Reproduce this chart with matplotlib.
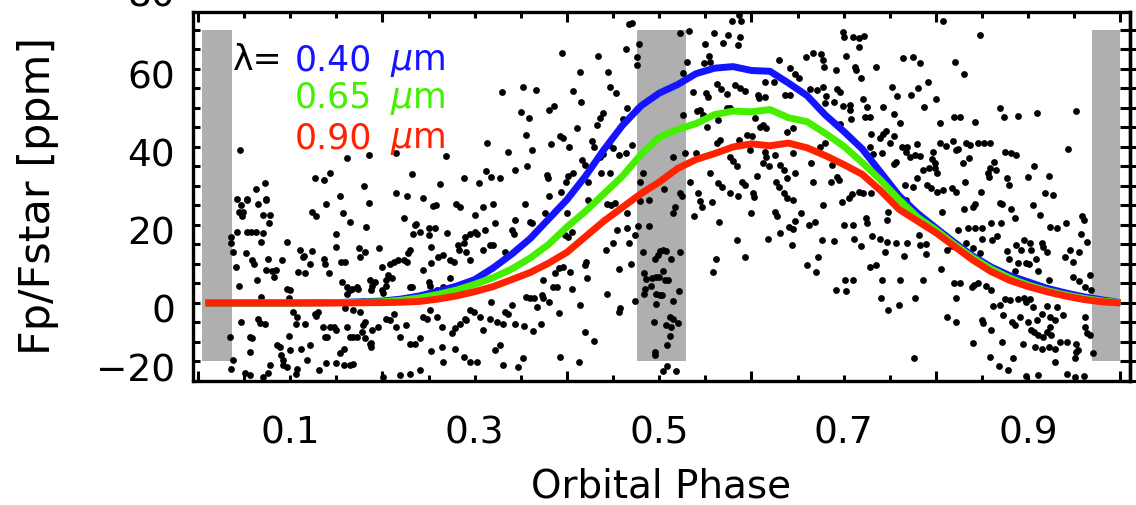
import numpy as np
import matplotlib
matplotlib.use("Agg")
import matplotlib.pyplot as plt
from matplotlib import transforms
from matplotlib.ticker import MultipleLocator

plt.rcParams["font.family"] = "DejaVu Sans"
plt.rcParams["mathtext.fontset"] = "dejavusans"

# model phase curves [ppm] for three wavelengths
phase = [0.008, 0.05, 0.10, 0.15, 0.20, 0.22, 0.24, 0.26, 0.28, 0.30, 0.32, 0.34,
         0.36, 0.38, 0.40, 0.42, 0.44, 0.46, 0.48, 0.50, 0.52, 0.54, 0.56, 0.58,
         0.60, 0.62, 0.64, 0.66, 0.68, 0.70, 0.72, 0.74, 0.76, 0.78, 0.80, 0.82,
         0.84, 0.86, 0.88, 0.90, 0.92, 0.94, 0.96, 0.98, 1.00]
flux_040 = [0.0, 0.0, 0.0, 0.1, 0.5, 1.0, 1.8, 3.0, 4.3, 6.0, 9.0, 12.5,
            16.5, 21.5, 26.5, 32.5, 39.3, 45.5, 50.5, 53.8, 56.0, 58.8, 60.2, 60.6,
            59.6, 59.4, 56.4, 53.2, 48.2, 44.0, 39.5, 33.5, 27.5, 23.0, 19.2, 15.5,
            12.0, 9.2, 7.0, 5.4, 3.8, 2.6, 1.6, 0.8, 0.1]
flux_065 = [0.0, 0.0, 0.0, 0.1, 0.3, 0.7, 1.3, 2.2, 3.3, 4.8, 6.5, 8.7,
            11.5, 15.0, 19.5, 23.5, 28.0, 32.5, 38.0, 42.5, 44.5, 46.0, 48.3, 49.2,
            49.0, 49.6, 47.5, 46.5, 43.5, 40.2, 36.0, 31.5, 26.5, 22.0, 18.7, 15.0,
            11.6, 8.7, 6.4, 4.6, 3.2, 2.1, 1.2, 0.5, 0.1]
flux_090 = [0.0, 0.0, 0.0, 0.0, 0.1, 0.2, 0.4, 1.0, 1.8, 2.9, 4.2, 6.0,
            7.8, 10.2, 13.0, 17.0, 21.0, 24.5, 28.0, 31.0, 34.5, 36.8, 38.3, 40.0,
            40.8, 40.3, 41.0, 39.8, 37.8, 35.5, 33.0, 28.8, 24.0, 21.0, 18.0, 14.5,
            11.0, 8.0, 5.8, 4.2, 2.9, 1.8, 0.9, 0.3, 0.0]

# phase ranges excluded around transit and eclipse
bands = [(0.004, 0.037), (0.476, 0.529), (0.969, 1.000)]
band_lo, band_hi = -15, 70

y_ticks = [-20, 0, 20, 40, 60]
x_labels = ["0.1", "0.3", "0.5", "0.7", "0.9"]

# simulated observations (phase, ppm)
points = [
    # upper left
    (0.046, 39.2), (0.161, 37.1), (0.185, 37.9), (0.215, 38.4), (0.269, 37.7), (0.313, 41.1),
    (0.336, 38.8), (0.330, 54.2), (0.127, 32.1), (0.137, 31.5), (0.143, 33.2), (0.073, 30.7),
    (0.063, 29.3), (0.232, 33.1), (0.180, 30.1), (0.262, 30.4), (0.288, 32.1), (0.305, 30.7),
    (0.312, 33.9), (0.318, 32.4), (0.327, 32.1), (0.042, 26.6), (0.053, 26.6), (0.074, 26.6),
    (0.154, 27.3), (0.215, 28.1), (0.227, 27.3), (0.244, 26.8),
    # upper middle
    (0.470, 71.8), (0.467, 71.5), (0.478, 66.3), (0.464, 65.1), (0.476, 63.0), (0.476, 60.9),
    (0.395, 64.0), (0.434, 63.4), (0.414, 59.3), (0.444, 59.3), (0.352, 55.5), (0.366, 54.6),
    (0.407, 54.4), (0.415, 51.6), (0.447, 55.3), (0.453, 53.9), (0.381, 49.5), (0.386, 50.5),
    (0.350, 48.9), (0.359, 47.5), (0.465, 49.9), (0.476, 49.7), (0.439, 48.6), (0.436, 47.4),
    (0.461, 47.1), (0.432, 45.6), (0.411, 44.8), (0.356, 43.1), (0.392, 42.8), (0.396, 42.2),
    (0.383, 40.8), (0.402, 40.1), (0.362, 39.2), (0.427, 41.5), (0.429, 40.1), (0.446, 40.5),
    (0.450, 39.7), (0.464, 38.4), (0.470, 40.5), (0.416, 36.7), (0.420, 35.4), (0.436, 37.5),
    (0.439, 38.2), (0.456, 37.9), (0.357, 35.2), (0.344, 34.1), (0.378, 32.8), (0.379, 32.0),
    (0.401, 32.6), (0.399, 31.1), (0.407, 33.2), (0.423, 31.1), (0.437, 33.2), (0.447, 33.2),
    (0.393, 28.5), (0.381, 27.3), (0.482, 33.2), (0.479, 31.1), (0.505, 29.1), (0.522, 69.1),
    (0.532, 69.7), (0.526, 59.0), (0.530, 61.9), (0.526, 48.2), (0.528, 38.4), (0.515, 37.5),
    (0.522, 28.1), (0.525, 27.4), (0.540, 38.4), (0.533, 30.9), (0.542, 28.3), (0.555, 33.4),
    (0.550, 66.3), (0.559, 69.1), (0.569, 66.6), (0.574, 68.7), (0.585, 66.2), (0.588, 68.3),
    (0.579, 72.4), (0.587, 73.8), (0.589, 72.3), (0.554, 63.4), (0.555, 61.9), (0.549, 61.5),
    (0.537, 54.2), (0.551, 53.8), (0.553, 52.7), (0.563, 56.2), (0.567, 54.8), (0.573, 53.5),
    (0.582, 55.9), (0.588, 55.0), (0.593, 54.4), (0.607, 53.3), (0.608, 52.5), (0.615, 52.9),
    (0.615, 56.7), (0.624, 56.7), (0.630, 62.3), (0.642, 60.2), (0.647, 58.7), (0.651, 57.6),
    (0.636, 53.3), (0.642, 53.3), (0.544, 49.5), (0.547, 48.2), (0.541, 49.1), (0.573, 49.9),
    (0.577, 50.1), (0.564, 46.8), (0.552, 45.2), (0.604, 47.4), (0.609, 45.2), (0.612, 45.6),
    (0.616, 44.8), (0.601, 42.7), (0.595, 43.1), (0.586, 41.9), (0.563, 40.9), (0.566, 41.9),
    (0.577, 37.5), (0.580, 36.4), (0.584, 35.0), (0.598, 39.2), (0.615, 38.8), (0.616, 37.5),
    (0.625, 37.9), (0.612, 35.8), (0.619, 35.1), (0.631, 35.4), (0.635, 34.1), (0.645, 38.4),
    (0.638, 43.9), (0.645, 44.8), (0.647, 33.2), (0.639, 32.0), (0.627, 31.1), (0.630, 29.8),
    (0.606, 32.6), (0.590, 31.1), (0.593, 30.3), (0.577, 28.1), (0.585, 27.3), (0.564, 30.7),
    (0.568, 29.7), (0.602, 28.1), (0.603, 27.1), (0.635, 28.1), (0.638, 26.8),
    # upper right
    (0.808, 72.4), (0.699, 69.6), (0.700, 68.3), (0.710, 68.1), (0.717, 67.9), (0.722, 68.5),
    (0.716, 65.7), (0.848, 68.7), (0.659, 63.0), (0.667, 64.2), (0.675, 63.8), (0.677, 62.3),
    (0.679, 60.4), (0.692, 59.7), (0.702, 63.3), (0.712, 60.6), (0.713, 59.7), (0.735, 60.6),
    (0.719, 57.6), (0.764, 62.7), (0.775, 63.0), (0.783, 61.5), (0.821, 61.8), (0.830, 58.7),
    (0.791, 56.6), (0.752, 55.3), (0.758, 53.1), (0.773, 53.2), (0.780, 55.2), (0.800, 52.2),
    (0.721, 52.2), (0.725, 50.2), (0.743, 50.2), (0.787, 50.2), (0.663, 54.8), (0.671, 54.6),
    (0.678, 55.3), (0.693, 54.8), (0.696, 54.2), (0.681, 53.1), (0.680, 51.2), (0.689, 51.6),
    (0.699, 50.5), (0.707, 50.8), (0.707, 49.5), (0.708, 47.1), (0.723, 47.6), (0.728, 47.8),
    (0.754, 48.5), (0.761, 46.1), (0.819, 47.6), (0.826, 47.6), (0.842, 46.4), (0.804, 46.1),
    (0.869, 50.1), (0.874, 47.6), (0.889, 47.9), (0.910, 48.8), (0.952, 49.3), (0.730, 43.2),
    (0.739, 42.2), (0.746, 44.2), (0.743, 43.3), (0.750, 40.9), (0.754, 42.8), (0.728, 39.9),
    (0.732, 38.2), (0.741, 38.4), (0.763, 39.9), (0.769, 40.1), (0.767, 38.8), (0.779, 40.8),
    (0.772, 37.5), (0.777, 37.9), (0.783, 37.7), (0.757, 36.2), (0.754, 35.6), (0.797, 38.8),
    (0.796, 36.8), (0.799, 35.8), (0.804, 41.1), (0.811, 40.3), (0.818, 41.6), (0.822, 39.1),
    (0.824, 39.4), (0.833, 41.1), (0.837, 40.5), (0.845, 41.1), (0.852, 41.1), (0.859, 41.1),
    (0.836, 37.1), (0.829, 35.8), (0.875, 38.8), (0.881, 38.4), (0.887, 37.9), (0.863, 36.2),
    (0.859, 34.5), (0.856, 33.2), (0.857, 32.4), (0.865, 34.1), (0.906, 35.2), (0.900, 32.2),
    (0.923, 32.6), (0.877, 32.0), (0.879, 30.3), (0.943, 39.5), (0.918, 28.3), (0.927, 27.7),
    (0.849, 28.5), (0.831, 31.1), (0.801, 33.2), (0.799, 34.5), (0.792, 34.5), (0.786, 34.1),
    (0.779, 32.0), (0.790, 30.3), (0.795, 29.4), (0.801, 28.5), (0.808, 29.0), (0.817, 29.4),
    (0.822, 28.5), (0.766, 30.3), (0.775, 29.8), (0.757, 27.3), (0.709, 28.0), (0.706, 26.8),
    (0.716, 28.5), (0.721, 28.1), (0.730, 28.1), (0.693, 32.4), (0.695, 31.5), (0.686, 30.9),
    (0.667, 31.1), (0.665, 35.8), (0.687, 35.4), (0.680, 40.9), (0.674, 40.1), (0.696, 45.9),
    # lower left
    (0.065, 25.5), (0.074, 26.4), (0.078, 22.5), (0.070, 22.5), (0.077, 20.6), (0.047, 25.1),
    (0.045, 23.4), (0.049, 23.4), (0.053, 26.4), (0.048, 22.3), (0.042, 18.3), (0.053, 18.3),
    (0.058, 18.3), (0.063, 18.3), (0.068, 15.7), (0.071, 18.0), (0.036, 17.0), (0.036, 15.3),
    (0.038, 13.1), (0.041, 9.1), (0.044, 4.3), (0.052, 12.9), (0.059, 11.0), (0.061, 10.1),
    (0.064, 6.0), (0.068, 1.6), (0.076, 11.2), (0.074, 8.4), (0.080, 8.3), (0.085, 8.4),
    (0.082, 6.7), (0.091, 11.0), (0.097, 15.7), (0.111, 13.7), (0.115, 12.0), (0.124, 13.4),
    (0.121, 10.1), (0.137, 11.2), (0.138, 10.1), (0.142, 7.7), (0.150, 17.8), (0.150, 14.4),
    (0.155, 10.6), (0.159, 10.6), (0.157, 23.0), (0.165, 20.8), (0.182, 19.5), (0.185, 25.7),
    (0.139, 25.5), (0.124, 23.4), (0.128, 22.3), (0.096, 3.5), (0.100, 3.3), (0.099, 1.2),
    (0.108, 8.0), (0.116, 7.7), (0.114, 11.8), (0.047, -4.8), (0.065, -4.0), (0.067, -5.1),
    (0.073, -5.4), (0.056, -8.7), (0.059, -9.1), (0.056, -12.5), (0.035, -8.7), (0.038, -14.7),
    (0.036, -16.8), (0.051, -17.9), (0.056, -18.5), (0.071, -18.9), (0.076, -17.9), (0.086, -10.8),
    (0.089, -11.2), (0.090, -13.4), (0.092, -14.7), (0.096, -16.4), (0.100, -12.1), (0.099, -8.5),
    (0.103, -2.3), (0.107, -3.5), (0.106, -5.4), (0.116, -5.3), (0.112, -11.7), (0.121, -10.8),
    (0.127, -2.7), (0.130, -2.3), (0.128, -3.3), (0.135, -6.1), (0.138, -8.7), (0.140, -8.7),
    (0.143, -6.1), (0.147, -6.1), (0.150, -6.8), (0.154, -12.9), (0.158, -11.7), (0.158, -15.9),
    (0.165, -15.9), (0.168, -15.7), (0.165, -8.8), (0.168, -8.7), (0.172, -8.8), (0.161, -6.1),
    (0.159, -1.4), (0.168, -1.8), (0.176, -2.3), (0.179, -5.7), (0.181, -4.8), (0.178, -7.4),
    (0.188, -10.2), (0.189, -7.0), (0.195, -6.1), (0.204, -4.0), (0.208, -4.4), (0.212, -2.7),
    (0.215, -6.1), (0.219, -8.7), (0.226, -5.7), (0.230, -10.4), (0.235, -10.4), (0.241, -9.1),
    (0.244, -3.5), (0.248, -4.0), (0.251, -1.8), (0.253, -12.3), (0.264, -11.2), (0.266, -15.1),
    (0.259, -3.5), (0.264, -6.1), (0.275, -7.8), (0.279, -6.5), (0.284, -5.3), (0.289, -4.0),
    (0.291, -4.4), (0.295, -1.8), (0.299, -2.3), (0.306, -3.5), (0.309, -7.0), (0.317, -4.0),
    (0.318, 0.3), (0.324, -4.8), (0.331, -5.3), (0.333, -2.3), (0.336, -2.7), (0.322, -12.1),
    (0.327, -10.8), (0.331, -15.9), (0.302, -15.1), (0.295, -15.1), (0.288, -13.8), (0.279, -11.7),
    (0.230, -18.1), (0.241, -17.2), (0.219, -18.5), (0.201, -18.9), (0.186, -10.4), (0.188, -11.2),
    (0.181, -9.1), (0.150, -15.5), (0.139, -15.5), (0.131, -17.2), (0.118, -14.7), (0.107, -17.0),
    (0.106, -18.1), (0.092, -15.9), (0.078, -15.9),
    (0.161, 4.1), (0.165, 3.3), (0.167, 3.7), (0.161, 2.4), (0.156, 5.4), (0.172, 4.0),
    (0.174, 3.5), (0.179, 0.6), (0.188, 3.3), (0.189, 4.3), (0.199, 3.3), (0.201, 2.6),
    (0.204, 4.3), (0.206, 7.1), (0.208, 10.0), (0.212, 10.6), (0.217, 11.0), (0.223, 11.0),
    (0.227, 10.6), (0.228, 12.7), (0.230, 13.6), (0.230, 4.1), (0.232, 4.1), (0.233, 17.8),
    (0.235, 20.0), (0.241, 18.3), (0.250, 19.1), (0.257, 19.1), (0.250, 17.4), (0.253, 14.4),
    (0.250, 5.4), (0.251, 4.3), (0.260, 11.8), (0.270, 18.0), (0.273, 11.0), (0.277, 10.6),
    (0.280, 25.3), (0.284, 24.7), (0.283, 13.6), (0.282, 14.8), (0.288, 15.3), (0.289, 17.0),
    (0.295, 17.8), (0.300, 18.3), (0.302, 17.8), (0.309, 24.7), (0.311, 18.7), (0.300, 22.5),
    (0.320, 25.5), (0.322, 20.6), (0.317, 14.8), (0.320, 14.8), (0.309, 13.6), (0.291, 13.1),
    (0.295, 11.0), (0.266, 12.3), (0.273, 6.3), (0.266, 4.0), (0.259, 3.3), (0.253, 10.3),
    (0.244, 8.4), (0.210, 6.5), (0.204, 5.9), (0.199, 9.3), (0.192, 5.4), (0.176, 11.8),
    (0.181, 13.1), (0.175, 14.0), (0.196, 14.0), (0.186, 5.9), (0.223, 21.7), (0.236, 20.2),
    (0.255, 24.8), (0.258, 25.1),
    # lower middle
    (0.344, 21.2), (0.340, 18.7), (0.343, 17.8), (0.333, 13.1), (0.354, 25.5), (0.376, 23.0),
    (0.360, 20.8), (0.362, 20.4), (0.400, 23.0), (0.398, 17.4), (0.401, 17.0), (0.405, 18.3),
    (0.423, 26.4), (0.443, 25.3), (0.448, 25.1), (0.452, 25.7), (0.454, 18.7), (0.450, 15.3),
    (0.442, 13.6), (0.421, 10.6), (0.420, 9.7), (0.422, 6.3), (0.391, 8.9), (0.387, 7.6),
    (0.396, 9.1), (0.403, 8.0), (0.385, 4.1), (0.389, 4.0), (0.374, 5.9), (0.405, 3.7),
    (0.356, 1.6), (0.360, 1.2), (0.364, 1.2), (0.373, 2.0), (0.374, 1.2), (0.380, 0.3),
    (0.368, -1.1), (0.340, -0.6), (0.344, -5.4), (0.353, -5.9), (0.363, -7.1), (0.372, -5.4),
    (0.391, -2.5), (0.414, -0.5), (0.420, -7.4), (0.429, -9.8), (0.392, -13.8), (0.352, -14.1),
    (0.347, -16.4), (0.413, -15.1), (0.443, 2.4), (0.456, 8.6), (0.467, 15.3), (0.469, 10.1),
    (0.474, 0.6), (0.457, -1.4), (0.456, -2.3), (0.465, 19.1), (0.474, 17.4), (0.465, 23.0),
    (0.489, 26.4), (0.479, 26.2), (0.477, 19.7), (0.489, 19.7), (0.482, 13.1), (0.495, 11.2),
    (0.501, 13.4), (0.504, 13.7), (0.507, 13.4), (0.499, 12.3), (0.513, 11.4), (0.523, 13.1),
    (0.483, 7.7), (0.486, 6.1), (0.492, 6.3), (0.497, 6.7), (0.500, 6.7), (0.504, 8.3),
    (0.506, 6.0), (0.510, 6.0), (0.491, 4.3), (0.485, 3.5), (0.483, 2.4), (0.496, 2.4),
    (0.501, 2.0), (0.503, 2.0), (0.497, -0.3), (0.515, 0.6), (0.521, 3.1), (0.494, -4.8),
    (0.507, -5.7), (0.512, -3.7), (0.515, -4.0), (0.513, -6.1), (0.520, -5.1), (0.512, -8.5),
    (0.508, -10.8), (0.495, -12.5), (0.495, -13.4), (0.508, -16.2), (0.504, -17.4), (0.518, -17.4),
    (0.515, 23.0), (0.517, 24.5), (0.544, 26.2), (0.546, 24.7), (0.557, 25.9), (0.538, 22.3),
    (0.565, 20.8), (0.562, 11.2), (0.558, 8.0), (0.584, 16.1), (0.593, 11.7), (0.600, 23.0),
    (0.618, 16.5), (0.626, 23.4), (0.628, 22.3), (0.631, 18.0), (0.641, 19.5), (0.645, 18.9),
    (0.644, 14.8), (0.647, 21.1), (0.645, 26.4),
    # lower right
    (0.654, 23.0), (0.669, 20.8), (0.662, 20.0), (0.676, 16.1), (0.689, 15.9), (0.660, 9.7),
    (0.672, 11.7), (0.670, 8.0), (0.677, 25.1), (0.698, 25.9), (0.700, 20.0), (0.710, 20.0),
    (0.711, 16.5), (0.719, 14.7), (0.724, 21.7), (0.725, 20.6), (0.728, 9.1), (0.735, 9.7),
    (0.731, 17.1), (0.739, 16.5), (0.692, 3.3), (0.702, 3.1), (0.701, 6.0), (0.710, 6.0),
    (0.741, 6.0), (0.740, 1.4), (0.748, -1.7), (0.745, 13.1), (0.747, 15.7), (0.747, 21.2),
    (0.748, 23.4), (0.761, 6.0), (0.760, -0.5), (0.757, 15.4), (0.769, 15.4), (0.765, 12.0),
    (0.768, 26.4), (0.777, 1.4), (0.776, -14.2), (0.786, 6.0), (0.782, 17.4), (0.783, 14.8),
    (0.789, 15.1), (0.789, 12.5), (0.806, 23.4), (0.805, 8.6), (0.812, 13.6), (0.817, 14.6),
    (0.819, 5.2), (0.826, 5.2), (0.822, 1.4), (0.812, -3.5), (0.822, -4.8), (0.824, 18.7),
    (0.830, 24.0), (0.840, 24.7), (0.842, 25.3), (0.833, 15.4), (0.840, 14.0), (0.848, 12.7),
    (0.835, 19.1), (0.842, 19.1), (0.850, 19.1), (0.850, 16.3), (0.839, 4.0), (0.841, 4.6),
    (0.846, 5.0), (0.854, 4.3), (0.860, 3.3), (0.840, -10.2), (0.851, -5.1), (0.850, -4.4),
    (0.860, -7.0), (0.859, -13.8), (0.868, -16.2), (0.878, -17.2), (0.860, 20.6), (0.871, 20.4),
    (0.861, 16.1), (0.866, 17.1), (0.869, 25.7), (0.872, 25.3), (0.881, 24.2), (0.886, 21.9),
    (0.877, 13.4), (0.879, 11.4), (0.887, 14.8), (0.892, 13.7), (0.895, 16.1), (0.902, 15.3),
    (0.903, 13.7), (0.908, 11.2), (0.898, 10.3), (0.901, 10.0), (0.889, 10.3), (0.886, 8.3),
    (0.911, 8.3), (0.905, 25.1), (0.913, 22.5), (0.924, 19.4), (0.931, 19.1), (0.941, 20.6),
    (0.958, 22.3), (0.960, 21.2), (0.920, 13.1), (0.916, 14.4), (0.915, 15.4), (0.940, 11.8),
    (0.945, 13.6), (0.948, 10.6), (0.955, 13.1), (0.964, 15.7), (0.957, 17.8), (0.949, 6.7),
    (0.955, 5.7), (0.961, 4.0), (0.968, 3.3), (0.967, 7.1), (0.922, 6.0), (0.875, 0.9),
    (0.880, 0.7), (0.889, 0.9), (0.895, 1.4), (0.898, 0.3), (0.902, 0.9), (0.905, -1.0),
    (0.862, -0.8), (0.869, -0.5), (0.873, -3.1), (0.882, -4.8), (0.886, -5.7), (0.891, -3.7),
    (0.900, -4.8), (0.903, -7.0), (0.909, -4.4), (0.915, -2.7), (0.920, -0.8), (0.931, -1.0),
    (0.906, -7.4), (0.911, -8.2), (0.916, -8.7), (0.920, -7.4), (0.925, -8.2), (0.929, -4.4),
    (0.938, -3.1), (0.924, -3.5), (0.924, -6.1), (0.894, -10.4), (0.907, -11.2), (0.915, -11.7),
    (0.923, -11.2), (0.929, -11.7), (0.934, -10.0), (0.942, -10.0), (0.952, -10.4), (0.954, -12.1),
    (0.872, -10.0), (0.884, -14.2), (0.929, -15.1), (0.962, -3.5), (0.962, -6.1), (0.964, -7.6),
    (0.967, -8.2), (0.970, -12.8), (0.952, -12.5), (0.951, -14.2), (0.942, -18.2), (0.951, -18.9),
    (0.960, -18.8), (0.911, -18.5), (0.898, -18.8),
]
obs_phase = np.array([p[0] for p in points])
obs_flux = np.array([p[1] for p in points])

W, H = 1136, 505
fig = plt.figure(figsize=(W / 100, H / 100), dpi=100)
ax = fig.add_axes([193 / W, 1 - 381 / H, (1130 - 193) / W, (381 - 12) / H])

for x0, x1 in bands:
    ax.fill_between([x0, x1], band_lo, band_hi, color="#afafaf", lw=0, zorder=1)

ax.scatter(obs_phase, obs_flux, s=24, c="k", lw=0, zorder=2)

curves = [(flux_040, "#1414ff"), (flux_065, "#44f000"), (flux_090, "#ff2200")]
for flux, col in curves:
    ax.plot(phase, flux, color=col, lw=5, solid_capstyle="butt", zorder=3)

ax.set_xlim(-0.0054, 1.0103)
ax.set_ylim(-20, 74.6)

# x: long ticks every 0.2, short ones every 0.05, labels on odd tenths
ax.set_xticks([0, 0.2, 0.4, 0.6, 0.8, 1.0], labels=[""] * 6)
minor_x = [round(0.05 * i, 2) for i in range(1, 20) if i % 4 != 0]
minor_lab = [f"{v:.1f}" if f"{v:.1f}" in x_labels and abs(v * 10 - round(v * 10)) < 1e-6 else ""
             for v in minor_x]
ax.set_xticks(minor_x, labels=minor_lab, minor=True)

ax.set_yticks(y_ticks, labels=[f"{v:d}".replace("-", "\u2212") for v in y_ticks])
ax.yaxis.set_minor_locator(MultipleLocator(5))

ax.tick_params(which="both", direction="in", top=True, right=False, width=2.2, color="k")
ax.tick_params(axis="x", which="major", length=7)
ax.tick_params(axis="x", which="minor", length=4, labelsize=27, pad=25)
ax.tick_params(axis="y", which="both", length=5, labelsize=27, pad=13)

for s in ax.spines.values():
    s.set_linewidth(2.4)

right = ax.secondary_yaxis("right")
right.yaxis.set_major_locator(MultipleLocator(5))
right.tick_params(direction="inout", length=14, width=2.2, labelright=False)
right.spines["right"].set_linewidth(2.4)

# nudge the y labels the way the original layout has them
for v, lab in zip(y_ticks, ax.get_yticklabels()):
    dy = 14 if v == -20 else -6
    lab.set_transform(lab.get_transform() + transforms.ScaledTranslation(0, dy / 100, fig.dpi_scale_trans))
ax.annotate("80", xy=(0, 80), xycoords=("axes fraction", "data"), xytext=(-13, -4.3),
            textcoords="offset points", ha="right", va="center", fontsize=27,
            annotation_clip=False)

fig.text(661 / W, 1 - 498 / H, "Orbital Phase", fontsize=28, ha="center", va="baseline")
fig.text(38 / W, 1 - 196 / H, "Fp/Fstar [ppm]", rotation=90, fontsize=31,
         ha="center", va="center")

# wavelength key
ax.text(0.038, 59.7, "\u03bb=", fontsize=25, color="k", va="baseline")
rows = [("0.40", "#1414ff", 59.7), ("0.65", "#44f000", 50.0), ("0.90", "#ff2200", 39.7)]
for txt, col, y in rows:
    ax.text(0.105, y, txt, fontsize=25, color=col, va="baseline")
    ax.text(0.208, y, r"$\mu$m", fontsize=25, color=col, va="baseline")

fig.savefig("out.png", dpi=100)
